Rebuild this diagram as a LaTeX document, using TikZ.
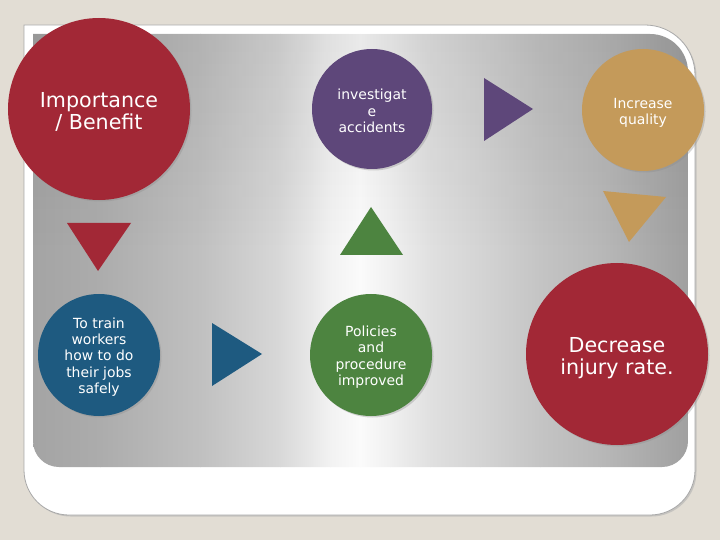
\documentclass[tikz,border=0pt]{standalone}
\usepackage{fontspec}
\setmainfont{DejaVu Sans}
\usetikzlibrary{fadings}
\definecolor{bgc}{HTML}{E2DDD4}
\definecolor{cred}{HTML}{A22836}
\definecolor{cpurple}{HTML}{5E477A}
\definecolor{ctan}{HTML}{C49A5A}
\definecolor{cblue}{HTML}{1E5A80}
\definecolor{cgreen}{HTML}{4D8440}
\definecolor{framegray}{HTML}{A8A8A8}
\definecolor{g033}{HTML}{A4A4A4}
\definecolor{g100}{HTML}{ACACAC}
\definecolor{g200}{HTML}{C0C0C0}
\definecolor{g280}{HTML}{D8D8D8}
\definecolor{g330}{HTML}{F2F2F2}
\definecolor{g360}{HTML}{FBFBFB}
\definecolor{g390}{HTML}{F0F0F0}
\definecolor{g430}{HTML}{E0E0E0}
\definecolor{g480}{HTML}{D4D4D4}
\definecolor{g540}{HTML}{C4C4C4}
\definecolor{g600}{HTML}{B8B8B8}
\definecolor{g688}{HTML}{A0A0A0}
\tikzset{
  bubble/.style={circle, inner sep=0pt, minimum size=#1},
  btext/.style={text=white, align=center},
  bigtext/.style={btext, font=\fontsize{20.7}{22}\selectfont},
  smalltext/.style={btext, font=\fontsize{14}{16.4}\selectfont},
  shadowc/.style={fill=black!45, opacity=0.35},
  band/.style 2 args={left color=#1, right color=#2, draw=none},
}
\begin{document}
\begin{tikzpicture}[x=1bp, y=-1bp]
\useasboundingbox (0,0) rectangle (720,540);
\fill[bgc] (0,0) rectangle (720,540);
% frame shadow
\fill[black!30, opacity=0.6, xshift=1.5bp, yshift=-1.5bp] (24,25) [rounded corners=50bp] -- (695,25) [rounded corners=45bp] -- (695,515) -- (24,515) [sharp corners] -- cycle;
% white frame
\draw[framegray, line width=0.8bp, fill=white] (24,25) [rounded corners=50bp] -- (695,25) [rounded corners=45bp] -- (695,515) -- (24,515) [sharp corners] -- cycle;
% gradient panel
\begin{scope}
\clip (33,34) [rounded corners=38bp] -- (688,34) [rounded corners=26bp] -- (688,467) -- (33,467) [sharp corners] -- cycle;
\shade[band={g033}{g100}] (33,34) rectangle (100.5,467);
\shade[band={g100}{g200}] (100,34) rectangle (200.5,467);
\shade[band={g200}{g280}] (200,34) rectangle (280.5,467);
\shade[band={g280}{g330}] (280,34) rectangle (330.5,467);
\shade[band={g330}{g360}] (330,34) rectangle (360.5,467);
\shade[band={g360}{g390}] (360,34) rectangle (390.5,467);
\shade[band={g390}{g430}] (390,34) rectangle (430.5,467);
\shade[band={g430}{g480}] (430,34) rectangle (480.5,467);
\shade[band={g480}{g540}] (480,34) rectangle (540.5,467);
\shade[band={g540}{g600}] (540,34) rectangle (600.5,467);
\shade[band={g600}{g688}] (600,34) rectangle (688,467);
\fill[black, opacity=0.07, path fading=south] (33,34) rectangle (688,250);
\end{scope}
% shadows of circles
\fill[shadowc] (100.5,110.5) circle[radius=91];
\fill[shadowc] (373.5,110.5) circle[radius=60];
\fill[shadowc] (644.5,111.5) circle[radius=61];
\fill[shadowc] (100.5,356.5) circle[radius=61];
\fill[shadowc] (372.5,356.5) circle[radius=61];
\fill[shadowc] (618.5,355.5) circle[radius=91];
% circles
\node[bubble=182bp, fill=cred] (imp) at (99,109) {};
\node[bubble=120bp, fill=cpurple] (inv) at (372,109) {};
\node[bubble=122bp, fill=ctan] (inc) at (643,110) {};
\node[bubble=122bp, fill=cblue] (train) at (99,355) {};
\node[bubble=122bp, fill=cgreen] (pol) at (371,355) {};
\node[bubble=182bp, fill=cred] (dec) at (617,354) {};
% texts
\node[bigtext] (imptxt) at ([yshift=-2.5bp]imp.center) {Importance\\/ Benefit};
\node[smalltext] (invtxt) at ([yshift=-2bp]inv.center) {investigat\\e\\accidents};
\node[smalltext] (inctxt) at ([yshift=-3bp]inc.center) {Increase\\quality};
\node[smalltext] (traintxt) at ([yshift=-2bp]train.center) {To train\\workers\\how to do\\their jobs\\safely};
\node[smalltext] (poltxt) at ([yshift=-2bp]pol.center) {Policies\\and\\procedure\\improved};
\node[bigtext] (dectxt) at ([yshift=-4.5bp]dec.center) {Decrease\\injury rate.};
% triangles
\fill[cred] (67,223) -- (131,223) -- (98,271) -- cycle;
\fill[cgreen] (340,255) -- (403,255) -- (371,207) -- cycle;
\fill[cpurple] (484,78) -- (484,141) -- (533,109) -- cycle;
\fill[ctan] (603,191) -- (666,197) -- (629,242) -- cycle;
\fill[cblue] (212,323) -- (212,386) -- (262,354) -- cycle;
\end{tikzpicture}
\end{document}
